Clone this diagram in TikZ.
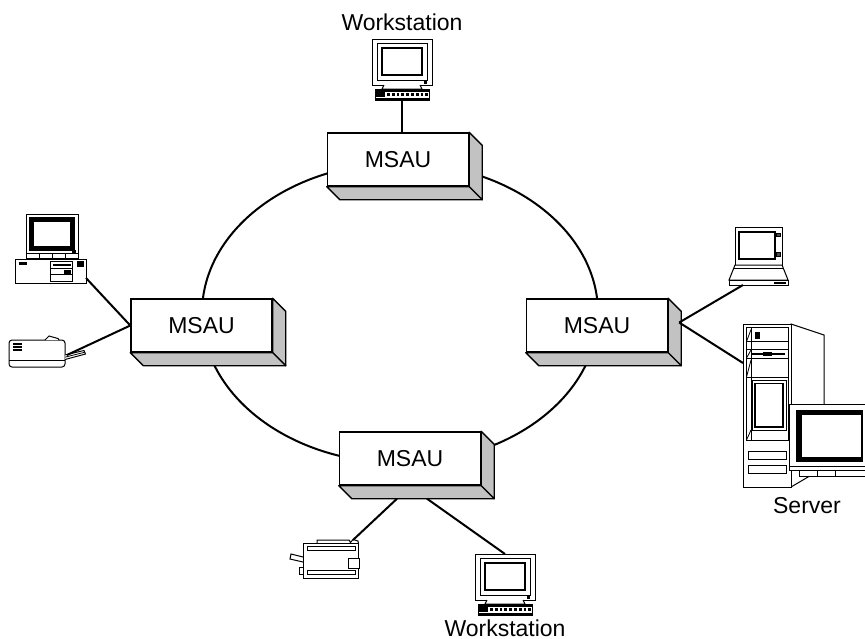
\documentclass[tikz,border=0pt]{standalone}
\usepackage{fontspec}
\setmainfont{Liberation Sans}
\definecolor{faceshade}{gray}{0.76}
\tikzset{
	device/.style={draw, fill=white, line width=0.5pt},
	msau/.style={draw, fill=white, line width=0.7pt, minimum width=70.5pt, minimum height=26.5pt, inner sep=0pt},
	face/.style={draw, fill=faceshade, line width=0.7pt, line join=round},
	cable/.style={line width=1pt},
	% monitor with keyboard, origin at the top left of the monitor
	workstation/.pic={
		\draw[device] (0,0) rectangle (60,46);
		\draw[line width=0.5pt] (5,4) rectangle (55,41);
		\draw[line width=0.9pt] (10,9) rectangle (50,36);
		\fill (52,42) rectangle (54.5,44.5);
		\draw[device] (12,46) -- (10,50) -- (50,50) -- (48,46);
		\draw[device] (3,50) rectangle (57,61);
		\fill (3,50) rectangle (57,52.5);
		\fill (3,58.5) rectangle (57,61);
		\fill (4,53) rectangle (13,58);
		\draw[line width=1.4pt, dash pattern=on 1.4pt off 1pt] (15,55.5) -- (56,55.5);
		\coordinate (-top) at (30,0);
		\coordinate (-bottom) at (30,61);
	},
	desktop/.pic={
		\draw[device] (0,0) rectangle (52,44);
		\draw[fill=black] (3.5,3.5) rectangle (48,36.5);
		\draw[fill=white] (7.5,7.5) rectangle (44,32.5);
		\fill (45.5,36) rectangle (50,40);
		\draw (0,39) -- (52,39);
		\foreach \t in {13,26,39} \draw (\t,39) -- (\t,44);
		\draw[device] (-11,45) rectangle (60,69);
		\fill (-7.5,47.5) rectangle (0.5,51);
		\draw[fill=black] (51.5,47.5) rectangle (57,52.5);
		\draw (24.7,47.7) rectangle (46.7,67.7);
		\fill (27,49.5) rectangle (45,52);
		\draw (24.7,54.5) -- (46.7,54.5);
		\draw (24.7,60.5) -- (46.7,60.5);
		\fill (38,55.5) rectangle (45,59.5);
		\coordinate (-port) at (60,64);
	},
	sideprinter/.pic={
		\draw[device, rounded corners=1.5pt] (0,0) rectangle (56,27);
		\draw (0,20) -- (56,20);
		\draw[device] (36,0) -- (40,-4) -- (49,-1.5) -- (50,0);
		\foreach \y in {4,7,10} \draw[line width=0.9pt] (4,\y) -- (13,\y);
		\draw[device] (56,15) -- (75,10.5) -- (76.5,14) -- (56,19.5);
		\draw (56,17.2) -- (75.5,12.3);
		\coordinate (-port) at (58,15);
	},
	frontprinter/.pic={
		\draw[device] (14,0) -- (14,-3) -- (46,-3) -- (48,0);
		\draw[device] (47,0) -- (50,-3.5) -- (55,-2) -- (55.5,1);
		\draw[device] (0,14) -- (-12,11) -- (-13,16) -- (0,19);
		\draw[device] (-4,24) rectangle (0,31);
		\draw[device] (0,0) rectangle (55,35);
		\draw (4,3) rectangle (52,7);
		\draw (4,27.5) rectangle (52,31.5);
		\draw[device] (45,15) rectangle (56,25);
		\coordinate (-port) at (50,-3);
	},
	laptop/.pic={
		\draw[device] (0,0) rectangle (47,38);
		\draw[line width=0.8pt] (4,5) rectangle (40,32);
		\draw[fill=black!70] (41.5,6) rectangle (45,9.5);
		\draw[fill=black!70] (41,25) rectangle (45,29);
		\draw[device] (0,38) -- (-6,53) -- (53,53) -- (47,38) -- cycle;
		\draw (-1,41.5) -- (48,41.5);
		\draw[device] (-6,53) rectangle (53,58);
		\fill (39,54.5) rectangle (51,56.5);
		\coordinate (-port) at (8,58);
	},
	% tower with its monitor, origin at the top left of the tower front
	server/.pic={
		\draw[device] (48,0) -- (81,11) -- (81,140) -- (65,153) -- (48,163) -- cycle;
		\draw[device] (0,0) rectangle (48,163);
		\draw (3.5,3.5) rectangle (45,116);
		\draw (8,3.5) -- (8,116);
		\draw (3.5,17.5) -- (45,17.5);
		\draw (3.5,25) -- (45,25);
		\draw (3.5,34) -- (45,34);
		\draw (3.5,53) -- (45,53);
		\draw (3.5,17.5) -- (8,5.5);
		\draw (3.5,34) -- (8,26);
		\draw (3.5,53) -- (8,36);
		\fill (12,8) rectangle (17,15);
		\draw[line width=0.9pt] (9,30) -- (42,30);
		\fill (20,28.3) rectangle (29,31.7);
		\draw (9,56) rectangle (43,106);
		\draw[line width=0.8pt] (11.7,59.3) rectangle (40,102.7);
		\draw (3.5,116) -- (8,106);
		\draw (5,127.7) rectangle (43.3,135.3);
		\draw (5,141.7) rectangle (43.3,149.3);
		\draw[device] (56.7,146.7) rectangle (124,152.7);
		\foreach \t in {74,92} \draw (\t,146.7) -- (\t,152.7);
		\draw[device] (46,80) rectangle (128,146.7);
		\fill (53.3,86) rectangle (120,137.7);
		\fill[white] (58.8,91) rectangle (117.5,133);
		\draw (46,142) -- (128,142);
		\coordinate (-port) at (0,39);
	},
}
\begin{document}
\begin{tikzpicture}[x=0.5pt, y=-0.5pt, font=\fontsize{11.5}{14}\selectfont]
	\useasboundingbox (0,0) rectangle (865,638);
	\draw[cable] (400,313) ellipse [x radius=198, y radius=150];

	\node[msau] (msauT) at (398,159.5) {MSAU};
	\node[msau] (msauL) at (201.5,325.5) {MSAU};
	\node[msau] (msauR) at (597,325.5) {MSAU};
	\node[msau] (msauB) at (410,458.5) {MSAU};
	\foreach \b in {msauT,msauL,msauR,msauB}{
		\draw[face] (\b.north east) -- ([shift={(13,13)}]\b.north east) -- ([shift={(13,13)}]\b.south east) -- (\b.south east) -- cycle;
		\draw[face] (\b.south west) -- ([shift={(13,13)}]\b.south west) -- ([shift={(13,13)}]\b.south east) -- (\b.south east) -- cycle;
	}
	\coordinate (hubR) at ([shift={(11,-3)}]msauR.east);
	\coordinate (hubB1) at ([shift={(-13,13)}]msauB.south);
	\coordinate (hubB2) at ([shift={(17,13)}]msauB.south);

	\pic (wsT) at (372,39) {workstation};
	\pic (pcL) at (26,214) {desktop};
	\pic (prL) at (9,340) {sideprinter};
	\pic (lapR) at (735,227) {laptop};
	\pic (srvR) at (743,324) {server};
	\pic (prB) at (303,543) {frontprinter};
	\pic (wsB) at (475,554) {workstation};

	\draw[cable] (wsT-bottom) -- (wsT-bottom |- msauT.north);
	\draw[cable] (pcL-port) -- (msauL.west);
	\draw[cable] (prL-port) -- (msauL.west);
	\draw[cable] (lapR-port) -- (hubR);
	\draw[cable] (srvR-port) -- (hubR);
	\draw[cable] (prB-port) -- (hubB1);
	\draw[cable] (wsB-top) -- (hubB2);

	\node (wsTlabel) at (402,22) {Workstation};
	\node (wsBlabel) at (505,628) {Workstation};
	\node (srvlabel) at (807,506) {Server};
\end{tikzpicture}
\end{document}
